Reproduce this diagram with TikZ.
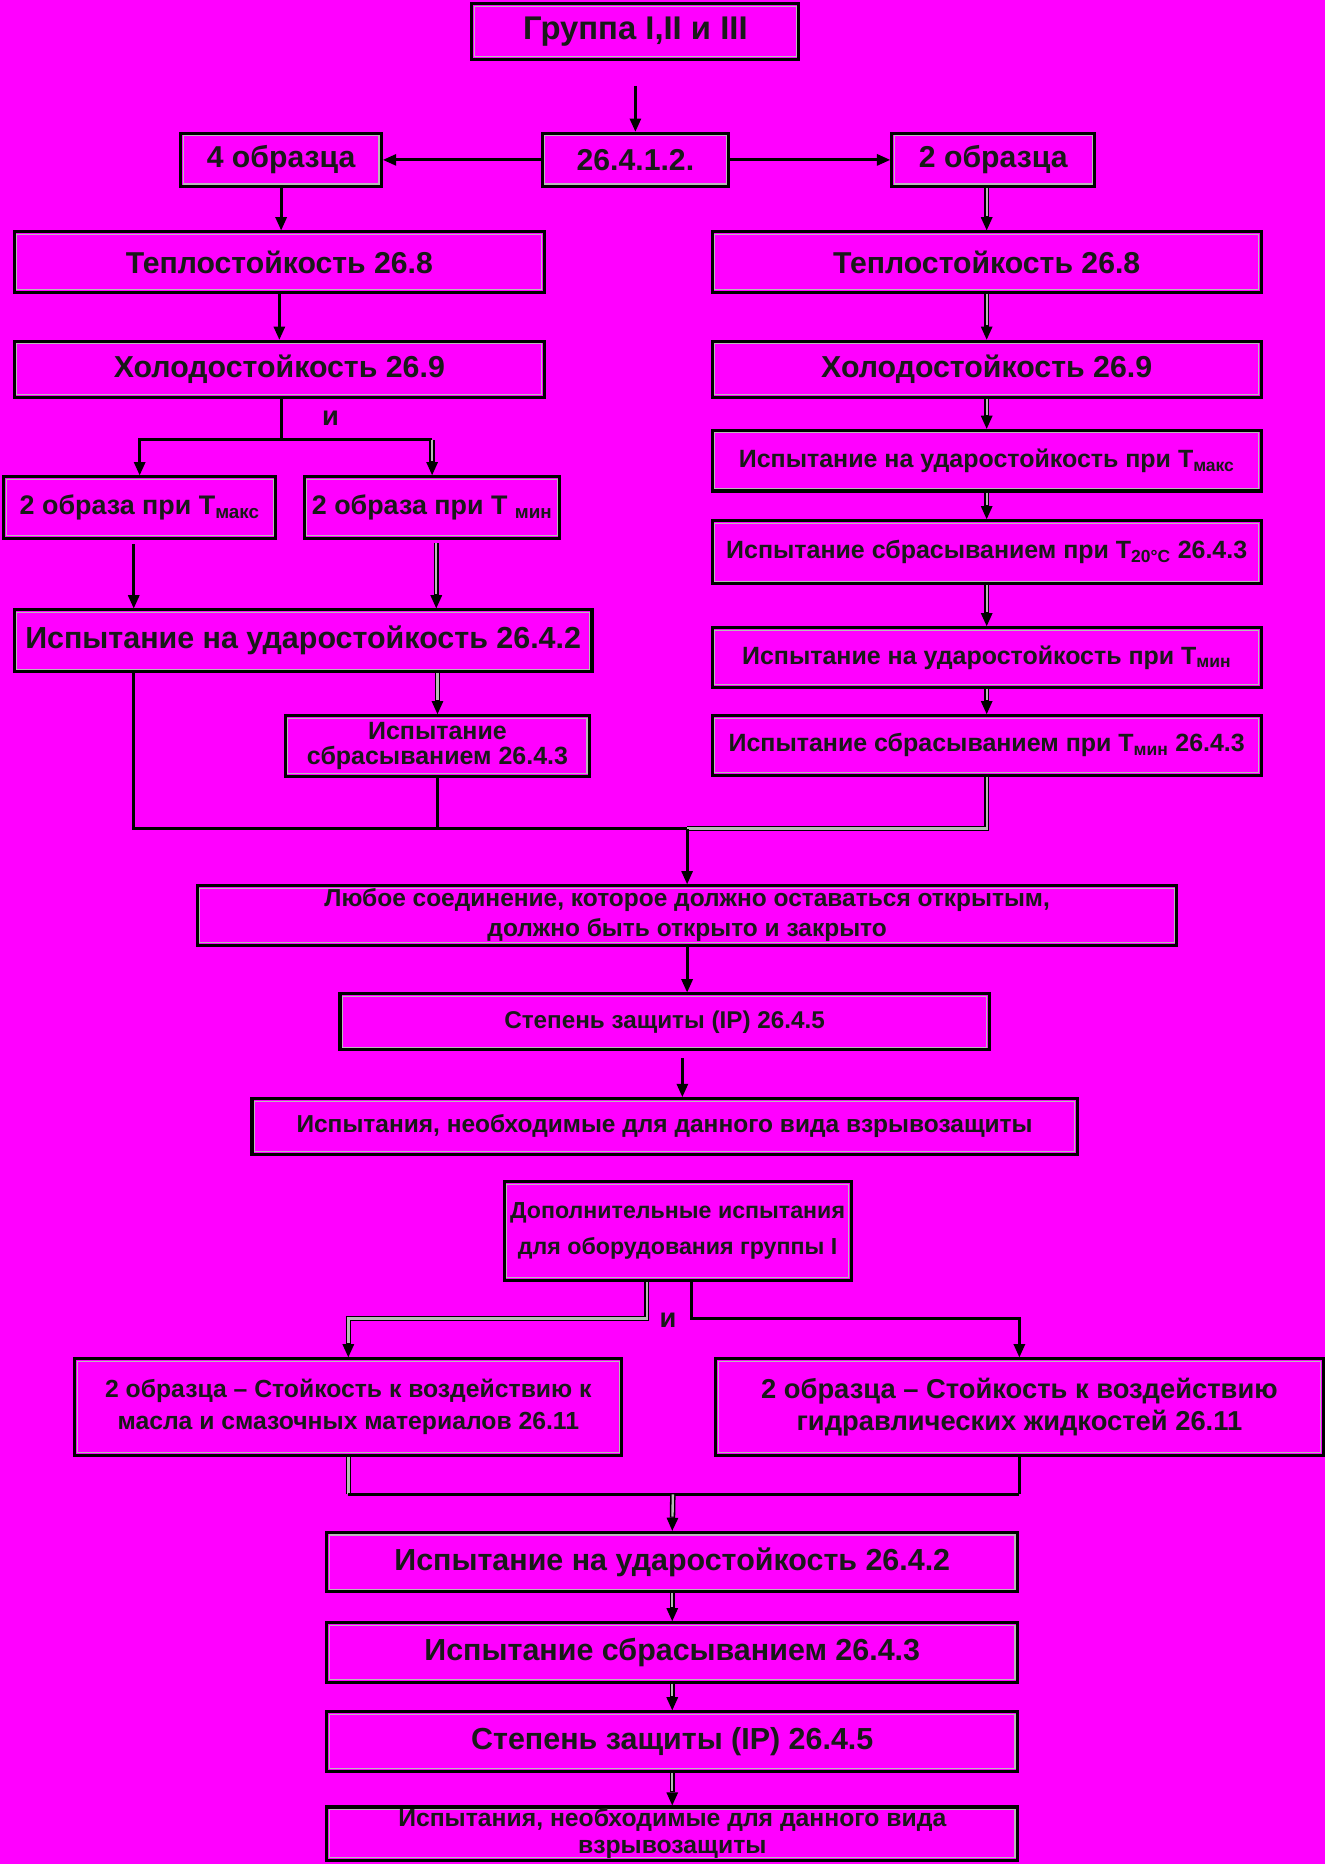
\documentclass[tikz,border=0pt]{standalone}
\usepackage{fontspec}
\setmainfont{Liberation Sans}
\usetikzlibrary{arrows.meta,calc}
\definecolor{bg}{RGB}{255,0,255}
\tikzset{
  box/.style={draw=black, line width=2.6pt, inner sep=0pt, align=center, text=black!90,
    path picture={\draw[gray!55, line width=0.9pt]
      ([shift={(2.2pt,-2.2pt)}]path picture bounding box.north west) rectangle
      ([shift={(-2.2pt,2.2pt)}]path picture bounding box.south east);}},
  fa/.style n args={2}{font=\bfseries\fontsize{#1}{#2}\selectfont},
  lbl/.style={font=\bfseries\fontsize{23}{26}\selectfont, inner sep=0pt, text=black!90},
  >={Triangle[length=11pt,width=10pt,line width=0pt]},
  bl/.style={draw=black, line width=2.4pt},
  gl/.style={draw=black, line width=4.6pt, postaction={draw=gray!55, line width=2pt}},
  ga/.style={draw=black, line width=4.6pt, ->, postaction={draw=gray!55, line width=2pt, -, shorten >=12pt}},
}
\begin{document}
\begin{tikzpicture}[x=1pt,y=-1pt]
\fill[bg] (0,0) rectangle (1114.6,1568);
\useasboundingbox (0,0) rectangle (1114.6,1568);

% top
\node[box, minimum width=275pt, minimum height=47pt, fa={27.6}{32}] (grp) at (534.5,26.5) {Группа I,II и III};
\node[box, minimum width=157pt, minimum height=45pt, fa={25.4}{30}] (n2612) at (534.5,134.5) {26.4.1.2.};
\node[box, minimum width=169pt, minimum height=45pt, fa={25.4}{30}] (s4) at (236.5,134.5) {4 образца};
\node[box, minimum width=171pt, minimum height=45pt, fa={25.4}{30}] (s2) at (835.5,134.5) {2 образца};

% left column
\node[box, minimum width=446pt, minimum height=51pt, fa={25.4}{30}] (lT) at (235,220.5) {Теплостойкость 26.8};
\node[box, minimum width=446pt, minimum height=47pt, fa={25.5}{30}] (lH) at (235,310.5) {Холодостойкость 26.9};
\node[box, minimum width=229pt, minimum height=52pt, fa={22.6}{26}] (lmax) at (117.5,427) {2 образа при T\textsubscript{макс}};
\node[box, minimum width=215pt, minimum height=52pt, fa={22.6}{26}] (lmin) at (363.5,427) {2 образа при T \textsubscript{мин}};
\node[box, minimum width=486pt, minimum height=52pt, fa={25.6}{30}] (lU) at (255,539) {Испытание на ударостойкость 26.4.2};
\node[box, minimum width=256pt, minimum height=51pt, fa={21}{21.5}] (lS) at (368,627.5) {Испытание\\сбрасыванием 26.4.3};

% right column
\node[box, minimum width=462pt, minimum height=51pt, fa={25.4}{30}] (rT) at (830,220.5) {Теплостойкость 26.8};
\node[box, minimum width=462pt, minimum height=47pt, fa={25.5}{30}] (rH) at (830,310.5) {Холодостойкость 26.9};
\node[box, minimum width=462pt, minimum height=51pt, fa={21}{25}] (rUmax) at (830,387.5) {Испытание на ударостойкость при T\textsubscript{макс}};
\node[box, minimum width=462pt, minimum height=53pt, fa={21}{25}] (rS20) at (830,464.5) {Испытание сбрасыванием при T\textsubscript{20°C} 26.4.3};
\node[box, minimum width=462pt, minimum height=50pt, fa={21}{25}] (rUmin) at (830,553) {Испытание на ударостойкость при T\textsubscript{мин}};
\node[box, minimum width=462pt, minimum height=50pt, fa={21}{25}] (rSmin) at (830,627) {Испытание сбрасыванием при T\textsubscript{мин} 26.4.3};

% middle
\node[box, minimum width=824pt, minimum height=50pt, fa={20.6}{25}] (any) at (578,770) {Любое соединение, которое должно оставаться открытым,\\должно быть открыто и закрыто};
\node[box, minimum width=546pt, minimum height=47pt, fa={20.4}{24}] (ip1) at (559,859.5) {Степень защиты (IP) 26.4.5};
\node[box, minimum width=694pt, minimum height=47pt, fa={20.6}{24}] (exp1) at (559,947.5) {Испытания, необходимые для данного вида взрывозащиты};
\node[box, minimum width=292pt, minimum height=83pt, fa={19.5}{31}] (add) at (570,1035.5) {Дополнительные испытания\\для оборудования группы I};
\node[box, minimum width=460pt, minimum height=81pt, fa={20.8}{26.5}] (oil) at (293,1183.5) {2 образца – Стойкость к воздействию к\\масла и смазочных материалов 26.11};
\node[box, minimum width=511pt, minimum height=81pt, fa={23}{26.5}] (hyd) at (857.5,1183.5) {2 образца – Стойкость к воздействию\\гидравлических жидкостей 26.11};

% bottom
\node[box, minimum width=581pt, minimum height=50pt, fa={25.6}{30}] (bU) at (565.5,1314) {Испытание на ударостойкость 26.4.2};
\node[box, minimum width=581pt, minimum height=50pt, fa={25.6}{30}] (bS) at (565.5,1390) {Испытание сбрасыванием 26.4.3};
\node[box, minimum width=581pt, minimum height=50pt, fa={25.6}{30}] (bIP) at (565.5,1465) {Степень защиты (IP) 26.4.5};
\node[box, minimum width=581pt, minimum height=45pt, fa={20.8}{22.5}] (bExp) at (565.5,1542.5) {Испытания, необходимые для данного вида\\взрывозащиты};

% connectors top
\coordinate (c0) at (534.5,72);
\draw[bl,->] (c0) -- (n2612.north);
\draw[bl,->] (n2612.west) -- (s4.east);
\draw[bl,->] (n2612.east) -- (s2.west);
\draw[bl,->] (s4.south) -- (s4.south |- lT.north);
\draw[ga] (rT.north |- s2.south) -- (rT.north);
\draw[ga] (rT.south) -- (rH.north);
\draw[ga] (rH.south) -- (rUmax.north);
\draw[ga] (rUmax.south) -- (rS20.north);
\draw[ga] (rS20.south) -- (rUmin.north);
\draw[ga] (rUmin.south) -- (rSmin.north);
\draw[bl,->] (lT.south) -- (lH.north);

% left split
\coordinate (j1) at (237,370);
\draw[bl] (lH.south -| j1) -- (j1);
\draw[bl,->] (j1) -| (lmax.north);
\draw[bl] (j1) -- (j1 -| lmin.north);
\draw[ga] (j1 -| lmin.north) -- (lmin.north);
\node[lbl] (and1) at (278,352) {и};
\coordinate (a1) at (112.5,458);
\draw[bl,->] (a1) -- (a1 |- lU.north);
\coordinate (a2) at (367,457);
\draw[ga] (a2) -- (a2 |- lU.north);
\draw[ga] (lS.north |- lU.south) -- (lS.north);

% merge
\coordinate (jL) at (112.5,697);
\coordinate (jM) at (578,697);
\draw[bl] (jL |- lU.south) -- (jL) -- (jM);
\draw[bl] (lS.south) -- (lS.south |- jM);
\draw[gl] (rSmin.south) |- (jM);
\draw[bl,->] (jM) -- (any.north);
\draw[bl,->] (any.south) -- (any.south |- ip1.north);
\coordinate (a3) at (574,890);
\draw[bl,->] (a3) -- (a3 |- exp1.north);

% additional tests split
\coordinate (jA) at (544,1109);
\coordinate (jB) at (582,1109);
\draw[ga] (add.south -| jA) -- (jA) -| (oil.north);
\draw[bl,->] (add.south -| jB) -- (jB) -| (hyd.north);
\node[lbl] (and2) at (562,1111) {и};

% bottom merge
\coordinate (jO) at (566,1257);
\draw[gl] (oil.south) -- (oil.south |- jO);
\draw[bl] (oil.south |- jO) -- (hyd.south |- jO);
\draw[bl] (hyd.south) -- (hyd.south |- jO);
\draw[ga] (jO) -- (bU.north);
\draw[ga] (bU.south) -- (bS.north);
\draw[ga] (bS.south) -- (bIP.north);
\draw[ga] (bIP.south) -- (bExp.north);
\end{tikzpicture}
\end{document}
